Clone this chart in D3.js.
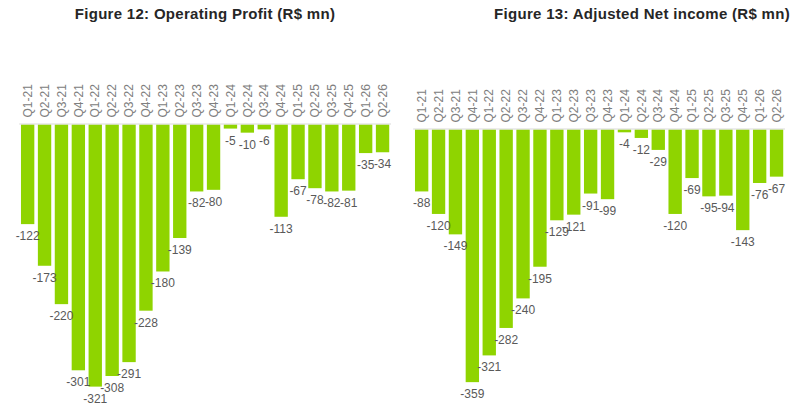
<!DOCTYPE html>
<html>
<head>
<meta charset="utf-8">
<script src="https://cdn.jsdelivr.net/npm/d3@7"></script>
<style>
  body { margin: 0; background: #fff; }
  text { font-family: "Liberation Sans", Arial, sans-serif; }
</style>
</head>
<body>
<script>

var quarters = ["Q1-21", "Q2-21", "Q3-21", "Q4-21", "Q1-22", "Q2-22", "Q3-22", "Q4-22",
	"Q1-23", "Q2-23", "Q3-23", "Q4-23", "Q1-24", "Q2-24", "Q3-24", "Q4-24",
	"Q1-25", "Q2-25", "Q3-25", "Q4-25", "Q1-26", "Q2-26"];

var operatingProfit = [-122, -173, -220, -301, -321, -308, -291, -228, -180, -139, -82, -80,
	-5, -10, -6, -113, -67, -78, -82, -81, -35, -34];

var adjNetIncome = [-88, -120, -149, -359, -321, -282, -240, -195, -129, -121, -91, -99,
	-4, -12, -29, -120, -69, -95, -94, -143, -76, -67];

var width = 800,
	height = 411;

var svg = d3.select("body").append("svg")
	.attr("width", width)
	.attr("height", height);

// one panel per figure
var panels = [
	{ title: "Figure 12: Operating Profit (R$ mn)", titleX: 205, values: operatingProfit,
	  x0: 19.2, x1: 391, base: 124.5, yMin: -350, yBottom: 410.3 },
	{ title: "Figure 13: Adjusted Net income (R$ mn)", titleX: 642, values: adjNetIncome,
	  x0: 413.2, x1: 785, base: 129.5, yMin: -400, yBottom: 411 }
];

panels.forEach(function(p) {

	var data = quarters.map(function(q, i) { return { q: q, v: p.values[i] }; });

	var x = d3.scaleBand()
		.domain(quarters)
		.range([p.x0, p.x1])
		.paddingInner(0.21)
		.paddingOuter(0.105);

	var y = d3.scaleLinear()
		.domain([p.yMin, 0])
		.range([p.yBottom, p.base]);

	var g = svg.append("g");

	g.append("text")
		.attr("x", p.titleX)
		.attr("y", 19)
		.attr("text-anchor", "middle")
		.style("font-size", "15px")
		.style("font-weight", "bold")
		.style("letter-spacing", "0.3px")
		.style("fill", "#262626")
		.text(p.title);

	g.selectAll("rect")
		.data(data)
	  .enter().append("rect")
		.attr("x", function(d) { return x(d.q); })
		.attr("y", y(0))
		.attr("width", x.bandwidth())
		.attr("height", function(d) { return y(d.v) - y(0); })
		.style("fill", "#8fd400");

	// baseline
	g.append("line")
		.attr("x1", p.x0)
		.attr("x2", p.x1)
		.attr("y1", y(0) - 0.5)
		.attr("y2", y(0) - 0.5)
		.style("stroke", "#d9d9d9")
		.style("stroke-width", 1);

	g.selectAll(".cat")
		.data(data)
	  .enter().append("text")
		.attr("class", "cat")
		.attr("transform", function(d) {
			return "translate(" + (x(d.q) + x.bandwidth() / 2) + "," + (y(0) - 7) + ") rotate(-90)";
		})
		.attr("dy", "0.35em")
		.attr("text-anchor", "start")
		.style("font-size", "12px")
		.style("fill", "#808080")
		.text(function(d) { return d.q; });

	g.selectAll(".val")
		.data(data)
	  .enter().append("text")
		.attr("class", "val")
		.attr("x", function(d) { return x(d.q) + x.bandwidth() / 2; })
		.attr("y", function(d) { return y(d.v) + 16; })
		.attr("text-anchor", "middle")
		.style("font-size", "12px")
		.style("fill", "#595959")
		.text(function(d) { return d.v; });
});

</script>
</body>
</html>
